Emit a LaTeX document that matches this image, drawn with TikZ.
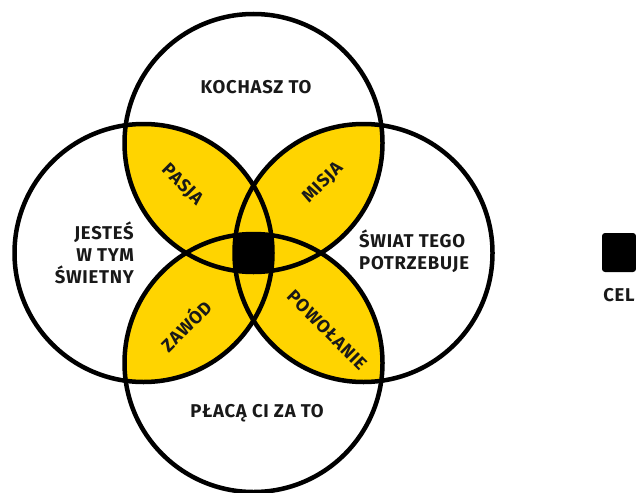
\documentclass[tikz,border=0pt]{standalone}
\usepackage{fontspec}
\setmainfont{Fira Sans}[LetterSpace=4]
\usepackage{xcolor}
\definecolor{gold}{RGB}{255,212,0}
\newcommand{\rad}{129}

\begin{document}
\begin{tikzpicture}[x=1pt,y=-1pt,
  ring/.style={draw=black,line width=4.5pt},
  lbl/.style={font=\bfseries\fontsize{18.5}{22}\selectfont,text=black!90,inner sep=0pt},
  petal/.style={lbl,font=\bfseries\fontsize{18}{20}\selectfont}]
\useasboundingbox (0,0) rectangle (636,492);
\coordinate (ct) at (253.5,143);
\coordinate (cb) at (253.5,363);
\coordinate (cl) at (143.5,253);
\coordinate (cr) at (363.5,253);
% overlaps
\begin{scope}
  \clip (ct) circle[radius=\rad];
  \fill[gold] (cl) circle[radius=\rad];
  \fill[gold] (cr) circle[radius=\rad];
\end{scope}
\begin{scope}
  \clip (cb) circle[radius=\rad];
  \fill[gold] (cl) circle[radius=\rad];
  \fill[gold] (cr) circle[radius=\rad];
\end{scope}
\begin{scope}
  \clip (ct) circle[radius=\rad];
  \clip (cb) circle[radius=\rad];
  \clip (cl) circle[radius=\rad];
  \fill[black] (cr) circle[radius=\rad];
\end{scope}
\draw[ring] (ct) circle[radius=\rad];
\draw[ring] (cb) circle[radius=\rad];
\draw[ring] (cl) circle[radius=\rad];
\draw[ring] (cr) circle[radius=\rad];
% labels
\node[lbl] (love) at (256,87) {KOCHASZ TO};
\node[lbl,align=right,anchor=east] (good) at (134,253) {JESTEŚ\\W TYM\\ŚWIETNY};
\node[lbl,align=left,anchor=west] (world) at (359,251) {ŚWIAT TEGO\\POTRZEBUJE};
\node[lbl] (paid) at (257,413) {PŁACĄ CI ZA TO};
\node[petal,rotate=-45] (pasja) at (182,185) {PASJA};
\node[petal,rotate=45] (misja) at (323,183) {MISJA};
\node[petal,rotate=45] (zawod) at (185,325) {ZAWÓD};
\node[petal,rotate=-45] (powol) at (327,330) {POWOŁANIE};
% key
\node[fill=black,rounded corners=3pt,minimum width=34,minimum height=39,inner sep=0pt] (key) at (619,252.5) {};
\node[lbl] (cel) at (619,295) {CEL};
\end{tikzpicture}
\end{document}
